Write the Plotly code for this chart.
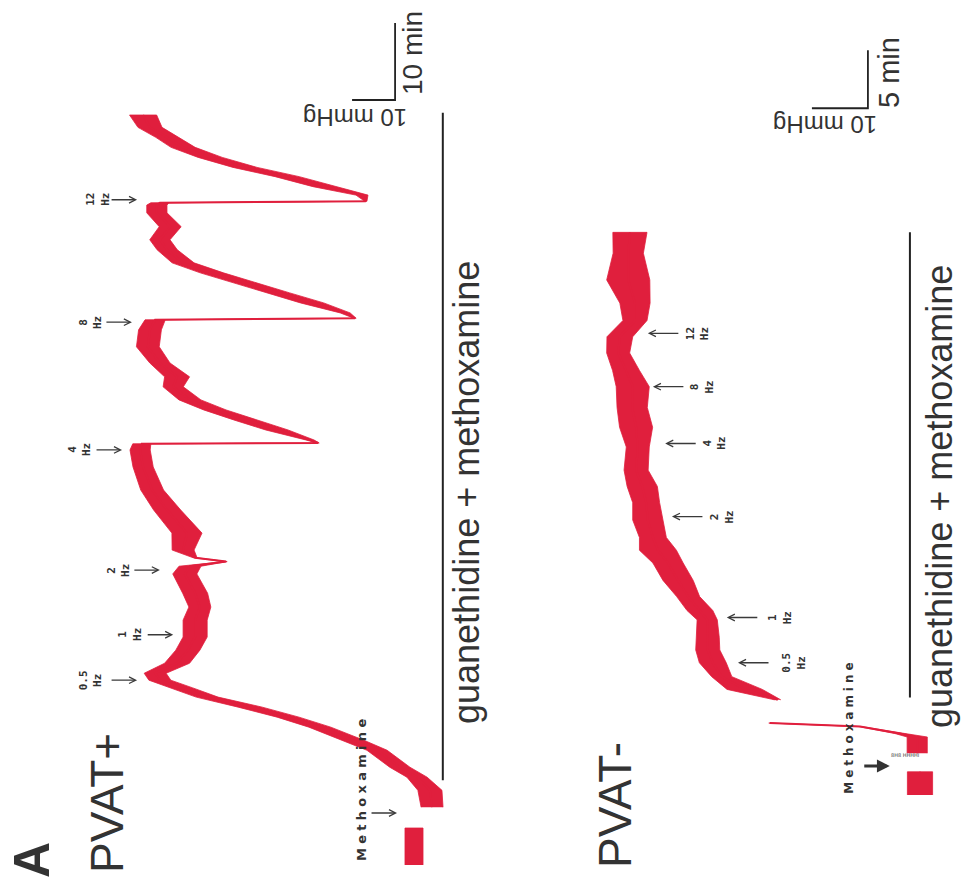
import plotly.graph_objects as go

RED = "#e01f3d"
INK = "#333333"

# ---------------- PVAT+ (time in min, tension in mmHg, band = noise amplitude) ----------
p_base_t = [0.0, 4.8]
p_base_T = [0.0, 0.0]
p_base_W = [4.2, 4.2]

p_t = [7.5, 9.7, 11.4, 12.7, 14.9, 16.2, 17.9, 19.2, 20.5, 21.8, 23.0, 24.0, 24.9, 26.2,
       27.9, 29.6, 31.8, 33.5, 35.3, 37.8, 38.8, 39.4, 39.9, 40.9, 43.1, 46.1, 48.7, 51.7,
       53.9, 54.7, 54.8, 55.2, 56.5, 57.8, 59.1, 60.4, 62.1, 63.4, 65.2, 67.3, 69.5, 70.8,
       71.0, 71.7, 73.0, 74.3, 75.6, 76.9, 78.2, 79.9, 81.2, 82.9, 84.7, 85.7, 86.0, 86.2,
       87.0, 88.1, 89.4, 90.6, 91.9, 93.2, 94.5, 95.8, 97.4]
p_T = [-4.2, -3.7, -0.7, 3.3, 8.6, 14.2, 21.9, 29.3, 38.1, 48.1, 54.0, 59.1, 60.2, 55.1,
       52.6, 50.9, 50.9, 49.8, 50.9, 53.3, 52.1, 43.7, 50.9, 53.7, 52.8, 57.4, 60.9, 63.0,
       63.7, 63.3, 22.3, 24.2, 31.9, 39.3, 46.3, 52.1, 56.0, 55.1, 59.1, 61.9, 61.4, 60.2,
       13.7, 16.0, 23.7, 31.6, 39.3, 47.0, 53.7, 57.4, 59.1, 56.7, 59.8, 59.8, 59.1, 11.2,
       12.1, 20.7, 29.5, 39.3, 47.4, 53.7, 57.4, 61.4, 63.0]
p_W = [5.1, 5.6, 4.7, 4.7, 4.7, 5.1, 5.1, 5.1, 5.6, 5.1, 5.1, 5.1, 5.1, 5.8,
       5.6, 5.6, 5.6, 5.1, 5.8, 5.6, 5.1, 0.5, 0.9, 5.1, 7.0, 6.3, 5.3, 4.7,
       4.7, 4.2, 0.5, 1.9, 5.2, 5.2, 5.2, 5.1, 4.7, 5.8, 4.7, 5.3, 5.3, 4.7,
       0.5, 2.3, 5.4, 5.4, 5.4, 5.4, 5.1, 4.7, 4.7, 5.1, 4.7, 4.7, 4.2, 0.5,
       2.8, 5.6, 5.6, 5.6, 5.6, 5.6, 5.3, 5.6, 6.3]

# ---------------- PVAT- ----------------
m_base_t = [0.0, 2.0]
m_base_T = [0.0, 0.0]
m_base_W = [4.5, 4.5]

m_step_t = [3.6, 5.0, 5.3, 5.6, 5.9, 6.2]
m_step_T = [0.5, 0.5, 3.6, 7.1, 10.7, 26.8]
m_step_W = [3.6, 3.6, 1.8, 1.1, 0.5, 0.4]

m_t = [8.2, 9.1, 10.2, 11.4, 12.5, 13.6, 15.1, 15.9, 17.1, 18.5, 20.0, 21.1, 22.2, 23.7,
       25.2, 26.6, 28.0, 30.0, 31.7, 33.4, 35.2, 36.6, 38.1, 39.5, 40.9, 42.4, 44.4, 46.7, 48.5]
m_T = [25.4, 31.3, 35.4, 37.0, 37.9, 37.9, 38.0, 39.3, 41.4, 43.2, 45.0, 46.8, 47.7, 48.6,
       48.9, 49.6, 50.7, 50.4, 50.7, 51.4, 51.3, 52.5, 53.9, 53.6, 50.9, 50.9, 52.1, 52.1, 51.8]
m_W = [1.1, 6.3, 3.6, 4.8, 4.3, 4.1, 3.6, 4.6, 4.1, 5.4, 5.4, 6.6, 4.8, 5.4,
       4.8, 5.4, 4.3, 4.1, 5.9, 5.4, 5.9, 4.8, 4.1, 4.6, 4.3, 5.4, 7.7, 5.4, 6.1]

freq_labels = ["0.5", "1", "2", "4", "8", "12"]
p_stim_t = [24.0, 29.9, 38.3, 53.9, 70.5, 86.4]
m_stim_t = [11.4, 15.3, 24.0, 30.3, 35.2, 39.8]
p_methox_t = 6.75
m_methox_t = 2.5
p_treat = [11.0, 97.7]     # guanethidine + methoxamine period (min)
m_treat = [8.4, 48.5]
p_scale = (10, 10)         # mmHg, min
m_scale = (10, 5)

# layout-only positions (arrow tips in tension units, label offsets in px)
p_arrow_T = [64.4, 56.0, 59.1, 67.9, 65.6, 64.4]
p_lab_shift = [-47, -43, -42, -42, -42, -39]
m_arrow_T = [32.5, 34.5, 44.3, 45.5, 47.7, 48.6]
m_lab_shift = [56, 53, 50, 49, 49, 49]

fig = go.Figure()


def band(t, T, W, xa, ya):
    lo = [a - w / 2 for a, w in zip(T, W)]
    hi = [a + w / 2 for a, w in zip(T, W)]
    fig.add_trace(go.Scatter(x=lo + hi[::-1], y=t + t[::-1], fill="toself", mode="lines",
                             line=dict(color=RED, width=0.8), fillcolor=RED,
                             xaxis=xa, yaxis=ya, hoverinfo="skip"))
    fig.add_trace(go.Scatter(x=T, y=t, mode="lines", line=dict(color=RED, width=2),
                             xaxis=xa, yaxis=ya, hoverinfo="skip"))


band(p_base_t, p_base_T, p_base_W, "x", "y")
band(p_t, p_T, p_W, "x", "y")
band(m_base_t, m_base_T, m_base_W, "x2", "y2")
band(m_step_t, m_step_T, m_step_W, "x2", "y2")
band(m_t, m_T, m_W, "x2", "y2")

# treatment bars
fig.add_trace(go.Scatter(x=[-6.7, -6.7], y=p_treat, mode="lines",
                         line=dict(color="#222", width=2), xaxis="x", yaxis="y"))
fig.add_trace(go.Scatter(x=[1.8, 1.8], y=m_treat, mode="lines",
                         line=dict(color="#222", width=2), xaxis="x2", yaxis="y2"))

# scale bars
px0, pt0 = 4.4, 99.35
fig.add_trace(go.Scatter(x=[px0 + p_scale[0], px0, px0], y=[pt0, pt0, pt0 + p_scale[1]],
                         mode="lines", line=dict(color="#222", width=1.8), xaxis="x", yaxis="y"))
mx0, mt0 = 9.3, 59.2
fig.add_trace(go.Scatter(x=[mx0 + m_scale[0], mx0, mx0], y=[mt0, mt0, mt0 + m_scale[1]],
                         mode="lines", line=dict(color="#222", width=1.8), xaxis="x2", yaxis="y2"))

ann = []
lab_font = dict(family="DejaVu Sans Mono", size=11, color=INK, weight="bold")
for f, t, xT, s in zip(freq_labels, p_stim_t, p_arrow_T, p_lab_shift):
    ann.append(dict(x=xT, y=t, xref="x", yref="y", ax=-27, ay=0, text="", showarrow=True,
                    arrowhead=5, arrowsize=1, arrowwidth=1.3, arrowcolor="#3a3a3a"))
    ann.append(dict(x=xT, y=t, xref="x", yref="y", xshift=s, text=f + "<br>Hz", showarrow=False,
                    textangle=-90, font=lab_font))
for f, t, xT, s in zip(freq_labels, m_stim_t, m_arrow_T, m_lab_shift):
    ann.append(dict(x=xT, y=t, xref="x2", yref="y2", ax=32, ay=0, text="", showarrow=True,
                    arrowhead=5, arrowsize=1, arrowwidth=1.3, arrowcolor="#3a3a3a"))
    ann.append(dict(x=xT, y=t, xref="x2", yref="y2", xshift=s, text=f + "<br>Hz", showarrow=False,
                    textangle=-90, font=lab_font))

meth = "\u2004".join("Methoxamine")
meth_font = dict(family="DejaVu Sans", size=13, color=INK, weight="bold")
meth_font2 = dict(family="DejaVu Sans", size=12, color=INK, weight="bold")
ann.append(dict(x=3.95, y=p_methox_t, xref="x", yref="y", ax=-27, ay=0, text="", showarrow=True,
                arrowhead=5, arrowwidth=1.3, arrowcolor="#3a3a3a"))
ann.append(dict(x=3.95, y=p_methox_t, xref="x", yref="y", xshift=-36, yshift=23, text=meth,
                showarrow=False, textangle=-90, font=meth_font))
ann.append(dict(x=5.4, y=m_methox_t, xref="x2", yref="y2", ax=-27, ay=0, text="", showarrow=True,
                arrowhead=2, arrowsize=0.8, arrowwidth=3.2, arrowcolor="#333"))
ann.append(dict(x=5.4, y=m_methox_t, xref="x2", yref="y2", xshift=-41, yshift=38, text=meth,
                showarrow=False, textangle=-90, font=meth_font2))
ann.append(dict(x=921 / 962, y=1 - 760 / 890, xref="paper", yref="paper", text="8H8 HHHHI",
                showarrow=False, font=dict(family="DejaVu Sans", size=5, color="#444")))

big = dict(family="Liberation Sans, Arial", color=INK)


def ptxt(text, x, y, size, angle, bold=False):
    f = dict(big, size=size)
    if bold:
        f["weight"] = "bold"
    ann.append(dict(x=x / 962, y=1 - y / 890, xref="paper", yref="paper", text=text,
                    showarrow=False, textangle=angle, font=f, xanchor="center", yanchor="middle"))


ptxt("A", 32, 860, 50, -90, bold=True)
ptxt("PVAT+", 107, 803, 46, -90)
ptxt("PVAT-", 615, 805, 46, -90)
ptxt("guanethidine + methoxamine", 466, 493, 36, -90)
ptxt("guanethidine + methoxamine", 939, 497, 36, -90)
ptxt("10 min", 413, 53, 28, -90)
ptxt("10 mmHg", 355, 117, 24, 180)
ptxt("5 min", 889, 73, 29, -90)
ptxt("10 mmHg", 825, 124, 24, 180)

fig.update_layout(
    width=962, height=890, margin=dict(l=0, r=0, t=0, b=0),
    paper_bgcolor="white", plot_bgcolor="rgba(0,0,0,0)", showlegend=False,
    xaxis=dict(domain=[0, 520 / 962], range=[96.28, -24.65], visible=False, anchor="y"),
    yaxis=dict(domain=[0, 1], range=[-3.25, 112.34], visible=False, anchor="x"),
    xaxis2=dict(domain=[520 / 962, 1], range=[71.43, -7.5], visible=False, anchor="y2"),
    yaxis2=dict(domain=[0, 1], range=[-8.19, 68.53], visible=False, anchor="x2"),
    annotations=ann,
)
fig.write_html("out.html")
